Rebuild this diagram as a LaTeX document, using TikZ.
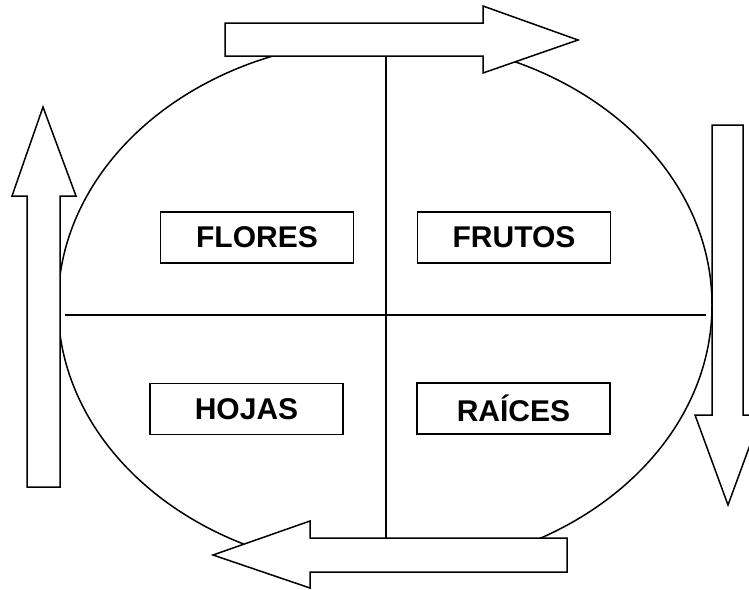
\documentclass[tikz,border=0pt]{standalone}
\usepackage{fontspec}
\setmainfont{Liberation Sans}
\begin{document}
\begin{tikzpicture}[x=1pt,y=-1pt,
  caja/.style={draw,line width=1.2pt,minimum width=193pt,minimum height=51pt,inner sep=0pt,font=\fontsize{30}{36}\selectfont\bfseries},
  flecha/.style={draw,fill=white,line width=1.5pt,line join=miter}]
 \useasboundingbox (0,0) rectangle (749,589);
 \draw[line width=1.5pt] (385,305) ellipse [x radius=327, y radius=265];
 \coordinate (arriba) at (386,40);
 \coordinate (abajo) at (386,565);
 \coordinate (izq) at (65,315);
 \coordinate (der) at (706,315);
    \draw[line width=1.8pt] (arriba) -- (abajo);
    \draw[line width=1.8pt] (izq) -- (der);
 \node[caja] (flores) at (257,237.5) {FLORES};
 \node[caja] (frutos) at (514,237.5) {FRUTOS};
 \node[caja] (hojas) at (246.5,409) {HOJAS};
 \node[caja] (raices) at (513.5,408.5) {RAÍCES};
    % flechas
    \draw[flecha] (225,23) -- (483,23) -- (483,6) -- (578,40) -- (483,73) -- (483,56) -- (225,56) -- cycle;
    \draw[flecha] (712,125) -- (743,125) -- (743,415) -- (761,415) -- (728,505) -- (695,415) -- (712,415) -- cycle;
    \draw[flecha] (567,538) -- (310,538) -- (310,521) -- (213,555) -- (310,588) -- (310,572) -- (567,572) -- cycle;
    \draw[flecha] (27,487) -- (27,196) -- (12,196) -- (43,107) -- (76,196) -- (60,196) -- (60,487) -- cycle;
\end{tikzpicture}
\end{document}
